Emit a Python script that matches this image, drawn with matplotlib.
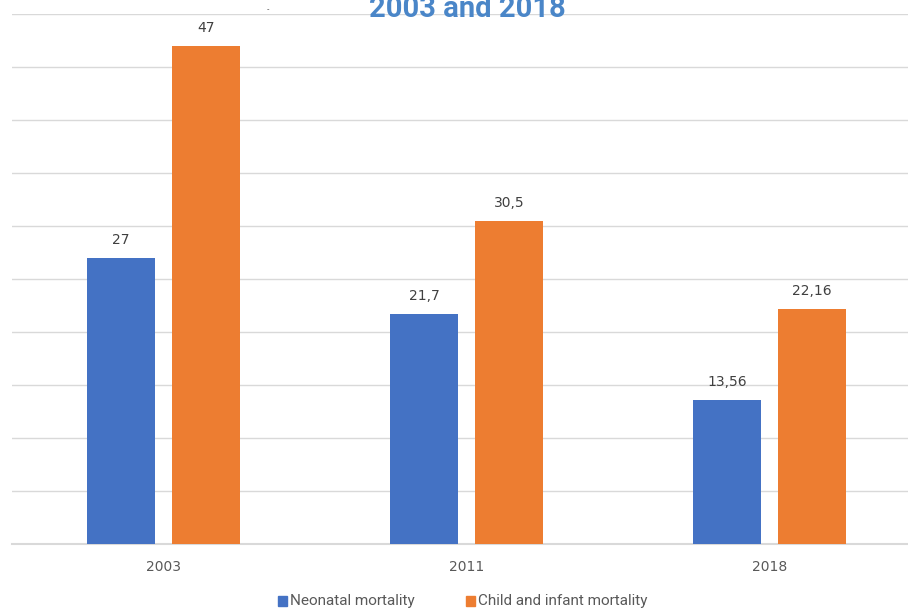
import matplotlib
matplotlib.use("Agg")
import matplotlib.pyplot as plt
import numpy as np
from matplotlib.patches import Rectangle

years = ["2003", "2011", "2018"]
neonatal = [27, 21.7, 13.56]
child_infant = [47, 30.5, 22.16]
neonatal_labels = ["27", "21,7", "13,56"]
child_labels = ["47", "30,5", "22,16"]
series_names = ["Neonatal mortality", "Child and infant mortality"]
title_text = "2003 and 2018"

W, H = 908, 609
fig = plt.figure(figsize=(W / 100, H / 100), dpi=100)
left, right, bottom, top = 12, 921, 544, 14
ax = fig.add_axes([left / W, 1 - bottom / H, (right - left) / W, (bottom - top) / H])

x = np.arange(len(years))
bw = 0.224
off = 0.14
blue = "#4472C4"
orange = "#ED7D31"
b1 = ax.bar(x - off, neonatal, bw, color=blue, zorder=3)
b2 = ax.bar(x + off, child_infant, bw, color=orange, zorder=3)

for rects, labs in ((b1, neonatal_labels), (b2, child_labels)):
    for r, lab in zip(rects, labs):
        ax.annotate(lab, (r.get_x() + r.get_width() / 2, r.get_height()),
                    xytext=(0, 8), textcoords="offset points", ha="center", va="bottom",
                    fontsize=10, color="#404040")

ax.set_xlim(-0.5, 2.5)
ax.set_ylim(0, 50)
ax.set_yticks(np.arange(0, 51, 5))
ax.yaxis.grid(True, color="#d9d9d9", linewidth=1, zorder=0)
ax.tick_params(axis="y", left=False, labelleft=False)
ax.tick_params(axis="x", bottom=False, labelsize=10, labelcolor="#595959", pad=8)
ax.set_xticks(x)
ax.set_xticklabels(years)
for s in ax.spines.values():
    s.set_visible(False)
ax.axhline(0, color="#d9d9d9", linewidth=1.5, zorder=2, clip_on=False)

fig.text(467 / W, 1 - 17 / H, title_text, ha="center", va="baseline",
         fontsize=21, fontweight="bold", color="#4A86C8", fontfamily="Roboto")
fig.text(268 / W, 1 - 9 / H, "-", ha="center", va="center", fontsize=5, color="#333333")

leg_y = 601
for sx, tx, col, name in ((278, 290, blue, series_names[0]), (466, 478, orange, series_names[1])):
    fig.patches.append(Rectangle((sx / W, 1 - (leg_y + 5) / H), 9 / W, 10 / H,
                                 transform=fig.transFigure, color=col))
    fig.text(tx / W, 1 - leg_y / H, name, ha="left", va="center", fontsize=11,
             color="#595959", fontfamily="Roboto")

fig.savefig("out.png", dpi=100)
